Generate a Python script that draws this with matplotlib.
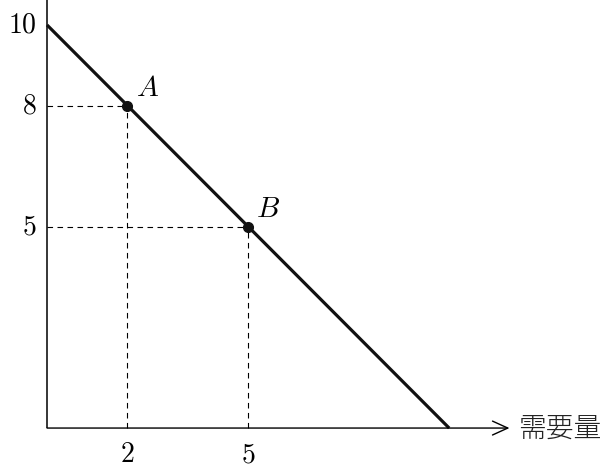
import matplotlib
matplotlib.use("Agg")
import matplotlib.pyplot as plt

# Data
line_x = [0, 10]
line_y = [10, 0]
point_x = [2, 5]
point_y = [8, 5]
point_labels = ["A", "B"]
xticks = [2, 5]
yticks = [5, 8, 10]
x_axis_label = "需要量"

plt.rcParams["mathtext.fontset"] = "cm"

fig = plt.figure(figsize=(6.12, 4.74), dpi=100)
ax = fig.add_axes([0, 0, 1, 1])
ax.set_xlim(-1.17, 14.05)
ax.set_ylim(-1.14, 10.62)
ax.axis("off")

# axes
ax.plot([0, 0], [0, 10.62], color="black", lw=1.1, solid_capstyle="butt")
ax.annotate("", xy=(11.5, 0), xytext=(0, 0),
            arrowprops=dict(arrowstyle="->,head_length=1.1,head_width=0.5",
                            color="black", lw=1.0, shrinkA=0, shrinkB=0))
ax.text(11.72, -0.02, x_axis_label, fontsize=20, va="center", ha="left",
        family=["Noto Sans CJK JP", "DejaVu Sans"], fontweight="light",
        color="#222222")

# demand line
ax.plot(line_x, line_y, color="#111111", lw=2.3, solid_capstyle="butt")

# dashed guides
for px, py in zip(point_x, point_y):
    ax.plot([0, px], [py, py], color="black", lw=0.8, ls=(0, (5, 4)))
    ax.plot([px, px], [0, py], color="black", lw=0.8, ls=(0, (5, 4)))

ax.plot(point_x, point_y, "o", color="#111111", ms=7, zorder=5)
for px, py, lab in zip(point_x, point_y, point_labels):
    ax.text(px + 0.2, py + 0.08, f"${lab}$", fontsize=21, ha="left", va="bottom")

for t in xticks:
    ax.text(t, -0.3, f"${t}$", fontsize=20, ha="center", va="top")
for t in yticks:
    ax.text(-0.25, t, f"${t}$", fontsize=20, ha="right", va="center")

fig.savefig("out.png", dpi=100)
